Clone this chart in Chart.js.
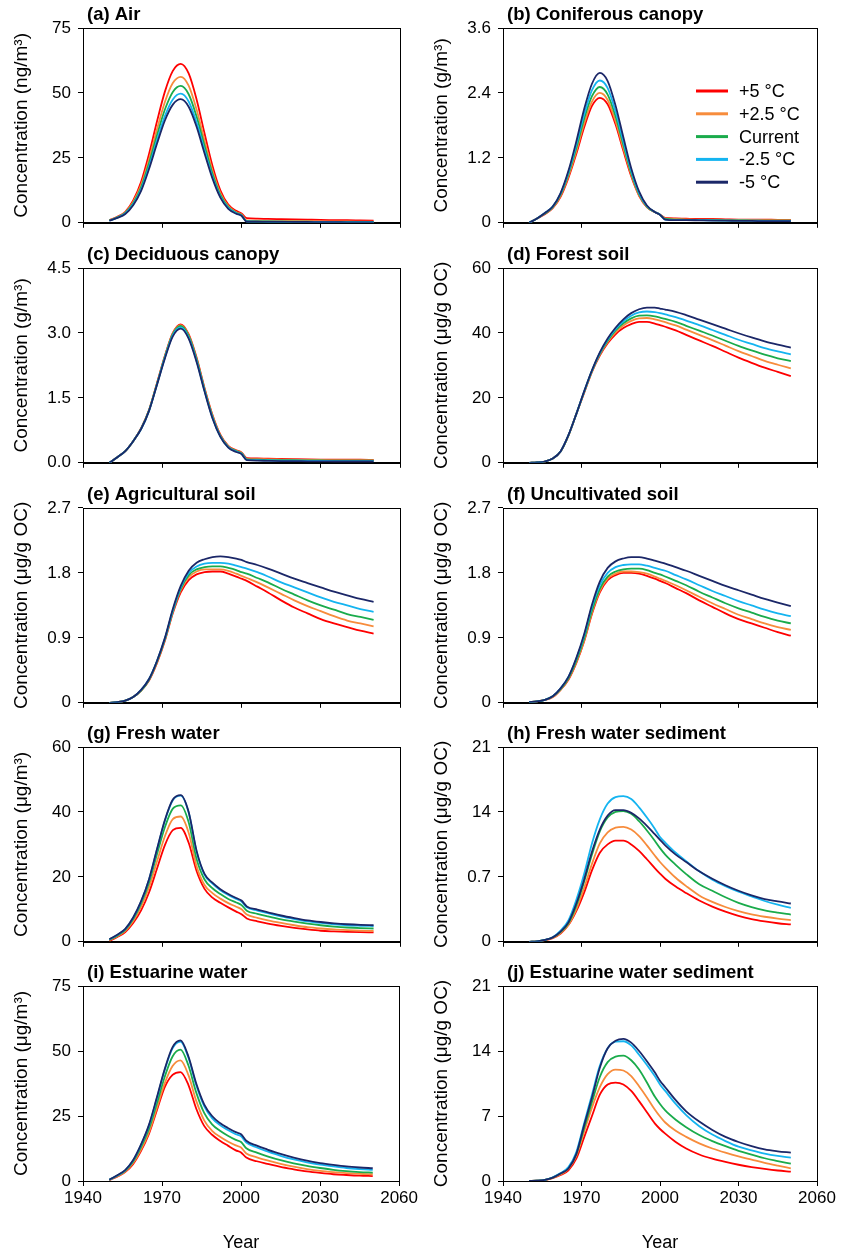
<!DOCTYPE html>
<html>
<head>
<meta charset="utf-8">
<script src="https://cdn.jsdelivr.net/npm/chart.js@4.4.0/dist/chart.umd.min.js"></script>
<style>
    body { margin: 0; background: #fff; }
    #wrap { position: relative; width: 841px; height: 1254px; }
    .cell { position: absolute; }
</style>
</head>
<body>
<div id="wrap"></div>
<script>
// sample years shared by every series
const years = [1950, 1953, 1956, 1959, 1962, 1965, 1968, 1971, 1974, 1977, 1980, 1983, 1986, 1989, 1992, 1995, 1998, 2000, 2002, 2006, 2010, 2015, 2020, 2025, 2030, 2035, 2040, 2045, 2050];
const xTicks = [1940, 1970, 2000, 2030, 2060];
const seriesNames = ["+5 °C", "+2.5 °C", "Current", "-2.5 °C", "-5 °C"];
const seriesColors = ["#fe0000", "#f78c3c", "#1aab4b", "#14b4f0", "#1b2768"];

// (a) Air
const airP5 = [1.0, 2.3, 4.2, 8.6, 15.8, 26.5, 39, 50.5, 58.5, 61.2, 57.5, 47.5, 34.5, 22, 12.5, 7, 4.6, 3.6, 1.8, 1.6, 1.5, 1.4, 1.3, 1.2, 1.1, 1.05, 1.0, 0.9, 0.8];
const airP25 = [0.9, 2.2, 4.0, 8.0, 14.6, 24.4, 36, 46.5, 53.8, 56.2, 52.8, 43.6, 31.6, 20.1, 11.4, 6.4, 4.1, 3.2, 0.9, 0.8, 0.75, 0.7, 0.65, 0.6, 0.55, 0.5, 0.5, 0.45, 0.4];
const airCur = [0.9, 2.1, 3.8, 7.5, 13.7, 22.9, 33.7, 43.6, 50.4, 52.7, 49.5, 40.9, 29.7, 18.9, 10.7, 6.0, 3.9, 3.0, 0.6, 0.5, 0.5, 0.45, 0.4, 0.4, 0.35, 0.35, 0.3, 0.3, 0.3];
const airM25 = [0.8, 2.0, 3.6, 7.1, 12.9, 21.6, 31.8, 41.1, 47.5, 49.7, 46.7, 38.6, 28, 17.8, 10.1, 5.7, 3.7, 2.8, 0.5, 0.45, 0.4, 0.4, 0.35, 0.35, 0.3, 0.3, 0.25, 0.25, 0.25];
const airM5 = [0.8, 1.9, 3.4, 6.8, 12.3, 20.7, 30.4, 39.4, 45.5, 47.6, 44.7, 37, 26.8, 17.1, 9.7, 5.4, 3.5, 2.7, 0.4, 0.4, 0.35, 0.35, 0.3, 0.3, 0.25, 0.25, 0.2, 0.2, 0.2];

// (b) Coniferous canopy
const conP5 = [0, 0.08, 0.16, 0.27, 0.48, 0.83, 1.27, 1.76, 2.16, 2.31, 2.19, 1.82, 1.33, 0.86, 0.5, 0.29, 0.2, 0.15, 0.09, 0.08, 0.075, 0.07, 0.07, 0.065, 0.06, 0.06, 0.06, 0.055, 0.055];
const conP25 = [0, 0.08, 0.17, 0.28, 0.5, 0.86, 1.32, 1.83, 2.24, 2.4, 2.27, 1.88, 1.38, 0.89, 0.51, 0.29, 0.2, 0.15, 0.08, 0.07, 0.065, 0.06, 0.06, 0.055, 0.055, 0.05, 0.05, 0.05, 0.05];
const conCur = [0, 0.08, 0.17, 0.29, 0.52, 0.9, 1.38, 1.92, 2.34, 2.51, 2.37, 1.97, 1.44, 0.92, 0.53, 0.3, 0.2, 0.15, 0.07, 0.06, 0.055, 0.05, 0.05, 0.045, 0.045, 0.04, 0.04, 0.04, 0.04];
const conM25 = [0, 0.08, 0.18, 0.3, 0.54, 0.93, 1.44, 2.0, 2.45, 2.63, 2.49, 2.06, 1.5, 0.96, 0.55, 0.31, 0.2, 0.15, 0.06, 0.055, 0.05, 0.05, 0.045, 0.04, 0.04, 0.04, 0.035, 0.035, 0.035];
const conM5 = [0, 0.08, 0.18, 0.3, 0.55, 0.96, 1.5, 2.1, 2.57, 2.77, 2.62, 2.17, 1.58, 1.01, 0.58, 0.32, 0.2, 0.15, 0.06, 0.05, 0.05, 0.045, 0.04, 0.04, 0.035, 0.035, 0.03, 0.03, 0.03];

// (c) Deciduous canopy
const decP5 = [0, 0.13, 0.27, 0.5, 0.8, 1.22, 1.84, 2.47, 3.0, 3.2, 2.97, 2.43, 1.73, 1.11, 0.65, 0.39, 0.29, 0.24, 0.11, 0.1, 0.095, 0.09, 0.085, 0.08, 0.075, 0.07, 0.07, 0.07, 0.065];
const decP25 = [0, 0.13, 0.27, 0.5, 0.79, 1.22, 1.83, 2.46, 2.99, 3.18, 2.95, 2.41, 1.71, 1.09, 0.63, 0.38, 0.28, 0.23, 0.09, 0.085, 0.08, 0.075, 0.07, 0.065, 0.065, 0.06, 0.06, 0.06, 0.06];
const decCur = [0, 0.13, 0.27, 0.5, 0.79, 1.21, 1.82, 2.45, 2.97, 3.16, 2.93, 2.39, 1.69, 1.07, 0.62, 0.37, 0.27, 0.22, 0.08, 0.07, 0.065, 0.06, 0.06, 0.055, 0.055, 0.05, 0.05, 0.05, 0.05];
const decM25 = [0, 0.13, 0.27, 0.5, 0.78, 1.2, 1.81, 2.43, 2.95, 3.13, 2.9, 2.36, 1.67, 1.05, 0.61, 0.36, 0.26, 0.21, 0.07, 0.06, 0.055, 0.05, 0.05, 0.045, 0.045, 0.04, 0.04, 0.04, 0.04];
const decM5 = [0, 0.13, 0.27, 0.5, 0.78, 1.2, 1.8, 2.41, 2.92, 3.1, 2.87, 2.33, 1.65, 1.03, 0.6, 0.35, 0.25, 0.2, 0.06, 0.05, 0.045, 0.04, 0.04, 0.035, 0.035, 0.03, 0.03, 0.03, 0.03];

// (d) Forest soil
const forP5 = [0, 0.1, 0.4, 1.3, 3.5, 8.4, 15, 21.5, 28, 33, 36.8, 39.6, 41.5, 42.7, 43.4, 43.4, 42.9, 42.4, 41.9, 40.8, 39.4, 37.7, 36, 34.2, 32.4, 30.8, 29.3, 28, 26.7];
const forP25 = [0, 0.1, 0.4, 1.3, 3.5, 8.4, 15, 21.6, 28.1, 33.3, 37.2, 40.2, 42.3, 43.7, 44.5, 44.6, 44.2, 43.8, 43.3, 42.3, 41, 39.4, 37.8, 36.1, 34.4, 32.9, 31.4, 30.2, 29.1];
const forCur = [0, 0.1, 0.4, 1.3, 3.5, 8.4, 15, 21.8, 28.3, 33.6, 37.6, 40.8, 43, 44.5, 45.3, 45.4, 45.1, 44.7, 44.3, 43.4, 42.2, 40.7, 39.2, 37.6, 36, 34.6, 33.3, 32.2, 31.3];
const forM25 = [0, 0.1, 0.4, 1.3, 3.5, 8.5, 15, 21.9, 28.4, 33.8, 38, 41.2, 43.6, 45.3, 46.3, 46.6, 46.4, 46.1, 45.7, 44.9, 43.8, 42.4, 40.9, 39.4, 37.9, 36.6, 35.3, 34.3, 33.4];
const forM5 = [0, 0.1, 0.4, 1.3, 3.5, 8.5, 15, 22, 28.5, 34, 38.3, 41.6, 44.2, 46.1, 47.3, 47.8, 47.8, 47.5, 47.2, 46.5, 45.5, 44.1, 42.7, 41.3, 39.9, 38.6, 37.4, 36.4, 35.5];

// (e) Agricultural soil
const agrP5 = [0, 0.01, 0.03, 0.08, 0.17, 0.31, 0.55, 0.86, 1.24, 1.53, 1.7, 1.78, 1.81, 1.82, 1.82, 1.79, 1.75, 1.72, 1.69, 1.61, 1.53, 1.42, 1.32, 1.24, 1.16, 1.1, 1.05, 1.0, 0.96];
const agrP25 = [0, 0.01, 0.03, 0.08, 0.17, 0.32, 0.56, 0.87, 1.26, 1.56, 1.74, 1.82, 1.85, 1.85, 1.85, 1.83, 1.79, 1.76, 1.73, 1.67, 1.6, 1.51, 1.42, 1.34, 1.27, 1.2, 1.14, 1.1, 1.06];
const agrCur = [0, 0.01, 0.03, 0.08, 0.17, 0.32, 0.57, 0.88, 1.27, 1.58, 1.77, 1.85, 1.88, 1.89, 1.89, 1.87, 1.84, 1.81, 1.79, 1.73, 1.67, 1.58, 1.5, 1.42, 1.35, 1.29, 1.23, 1.19, 1.15];
const agrM25 = [0, 0.01, 0.03, 0.08, 0.18, 0.33, 0.58, 0.89, 1.28, 1.6, 1.8, 1.89, 1.93, 1.94, 1.94, 1.93, 1.9, 1.88, 1.86, 1.81, 1.75, 1.67, 1.6, 1.53, 1.46, 1.4, 1.35, 1.3, 1.26];
const agrM5 = [0, 0.01, 0.03, 0.08, 0.18, 0.33, 0.58, 0.9, 1.3, 1.62, 1.83, 1.94, 1.99, 2.02, 2.03, 2.02, 2.0, 1.98, 1.95, 1.91, 1.86, 1.79, 1.72, 1.66, 1.6, 1.54, 1.49, 1.44, 1.4];

// (f) Uncultivated soil
const uncP5 = [0.01, 0.02, 0.04, 0.08, 0.18, 0.32, 0.55, 0.85, 1.23, 1.53, 1.7, 1.77, 1.8, 1.8, 1.79, 1.76, 1.72, 1.69, 1.66, 1.59, 1.52, 1.42, 1.33, 1.24, 1.16, 1.1, 1.04, 0.98, 0.93];
const uncP25 = [0.01, 0.02, 0.04, 0.08, 0.18, 0.33, 0.56, 0.86, 1.25, 1.55, 1.72, 1.79, 1.82, 1.82, 1.81, 1.79, 1.75, 1.72, 1.69, 1.63, 1.56, 1.47, 1.38, 1.3, 1.22, 1.16, 1.1, 1.05, 1.01];
const uncCur = [0.01, 0.02, 0.04, 0.09, 0.19, 0.34, 0.58, 0.89, 1.28, 1.58, 1.75, 1.82, 1.85, 1.86, 1.86, 1.84, 1.8, 1.78, 1.75, 1.69, 1.63, 1.54, 1.46, 1.38, 1.31, 1.25, 1.19, 1.14, 1.1];
const uncM25 = [0.01, 0.02, 0.04, 0.09, 0.2, 0.36, 0.61, 0.93, 1.33, 1.63, 1.8, 1.88, 1.91, 1.92, 1.92, 1.9, 1.87, 1.85, 1.83, 1.77, 1.71, 1.63, 1.55, 1.48, 1.41, 1.35, 1.29, 1.24, 1.2];
const uncM5 = [0.01, 0.02, 0.04, 0.09, 0.2, 0.36, 0.62, 0.95, 1.36, 1.68, 1.87, 1.96, 2.0, 2.02, 2.02, 2.0, 1.97, 1.95, 1.93, 1.88, 1.83, 1.76, 1.69, 1.62, 1.56, 1.5, 1.44, 1.39, 1.34];

// (g) Fresh water
const fwP5 = [0.3, 1.5, 3.0, 5.8, 9.7, 15.2, 22.5, 29.8, 34.4, 35.1, 30.5, 21.8, 16.3, 13.6, 12.0, 10.6, 9.3, 8.5, 7.2, 6.3, 5.6, 4.9, 4.3, 3.8, 3.4, 3.2, 3.05, 2.95, 2.9];
const fwP25 = [0.45, 1.7, 3.4, 6.4, 10.8, 16.8, 24.7, 32.5, 37.8, 38.6, 33.6, 23.3, 17.5, 15.0, 13.3, 11.9, 10.8, 10.0, 8.4, 7.4, 6.6, 5.8, 5.1, 4.5, 4.1, 3.8, 3.6, 3.45, 3.35];
const fwCur = [0.6, 1.9, 3.7, 7.0, 11.8, 18.3, 27, 35.3, 41, 42, 36.8, 25.5, 19.2, 16.5, 14.7, 13.2, 12.1, 11.3, 9.6, 8.6, 7.8, 6.9, 6.2, 5.6, 5.1, 4.7, 4.4, 4.2, 4.1];
const fwM25 = [0.7, 2.1, 3.9, 7.4, 12.4, 19.2, 28.4, 37.3, 43.6, 45.0, 39.8, 27.8, 20.6, 17.9, 15.9, 14.4, 13.2, 12.4, 10.6, 9.6, 8.8, 7.8, 7.0, 6.3, 5.8, 5.4, 5.1, 4.95, 4.85];
const fwM5 = [0.8, 2.2, 4.0, 7.5, 12.5, 19.3, 28.5, 37.5, 43.8, 45.2, 40, 28, 20.9, 18.2, 16.2, 14.7, 13.5, 12.7, 10.9, 9.9, 9.1, 8.1, 7.3, 6.6, 6.1, 5.7, 5.4, 5.2, 5.1];

// (h) Fresh water sediment
const fwsP5 = [0, 0.04, 0.17, 0.4, 0.9, 1.8, 3.3, 5.3, 7.7, 9.6, 10.5, 10.9, 10.9, 10.5, 9.8, 8.9, 7.95, 7.35, 6.8, 5.95, 5.25, 4.45, 3.8, 3.25, 2.8, 2.45, 2.2, 2.0, 1.87];
const fwsP25 = [0, 0.04, 0.18, 0.42, 0.95, 1.85, 3.5, 5.8, 8.4, 10.6, 11.8, 12.3, 12.4, 12.1, 11.4, 10.4, 9.3, 8.6, 8.0, 6.9, 6.0, 5.0, 4.3, 3.75, 3.3, 2.95, 2.7, 2.5, 2.33];
const fwsCur = [0, 0.05, 0.2, 0.46, 1.05, 2.0, 3.9, 6.5, 9.4, 11.9, 13.4, 14.0, 14.1, 13.8, 13.0, 12.0, 10.9, 10.1, 9.4, 8.3, 7.3, 6.2, 5.5, 4.8, 4.2, 3.75, 3.4, 3.15, 2.94];
const fwsM25 = [0, 0.05, 0.2, 0.5, 1.2, 2.3, 4.5, 7.3, 10.6, 13.2, 14.9, 15.6, 15.7, 15.4, 14.5, 13.4, 12.2, 11.3, 10.7, 9.6, 8.7, 7.6, 6.7, 6.0, 5.4, 4.9, 4.4, 4.0, 3.66];
const fwsM5 = [0, 0.05, 0.2, 0.48, 1.1, 2.1, 4.1, 6.7, 9.7, 12.1, 13.6, 14.2, 14.2, 13.9, 13.3, 12.5, 11.6, 11.0, 10.4, 9.4, 8.6, 7.6, 6.8, 6.1, 5.5, 5.0, 4.6, 4.35, 4.13];

// (i) Estuarine water
const ewP5 = [0.3, 1.7, 3.4, 6.5, 11.5, 18, 27, 36, 40.8, 41.9, 37, 27.8, 21.2, 17.8, 15.5, 13.6, 11.8, 11, 9, 7.6, 6.6, 5.4, 4.5, 3.7, 3.1, 2.6, 2.3, 2.05, 1.9];
const ewP25 = [0.4, 1.8, 3.6, 6.9, 12.1, 18.7, 28, 37.5, 44.2, 46.4, 40.8, 30.8, 23.3, 19.3, 17.0, 15.2, 13.7, 12.9, 10.6, 9.1, 7.9, 6.6, 5.5, 4.6, 3.9, 3.4, 3.0, 2.75, 2.6];
const ewCur = [0.45, 2.0, 3.9, 7.4, 13, 20, 29.7, 40, 47.9, 50.5, 44.5, 34, 26.2, 21.8, 19.3, 17.4, 15.8, 15, 12.6, 10.9, 9.5, 8, 6.8, 5.8, 5.0, 4.3, 3.8, 3.45, 3.2];
const ewM25 = [0.5, 2.1, 4.1, 7.9, 13.8, 21.2, 31.6, 42.6, 51, 53.6, 47.5, 36.8, 28.8, 24.2, 21.5, 19.6, 18, 17.2, 14.8, 12.9, 11.4, 9.7, 8.3, 7.2, 6.3, 5.6, 5.0, 4.6, 4.3];
const ewM5 = [0.5, 2.2, 4.2, 8, 14, 21.5, 32, 43, 51.5, 54.1, 48, 37.5, 29.5, 25, 22.3, 20.4, 18.8, 18, 15.5, 13.6, 12.1, 10.4, 9.0, 7.8, 6.9, 6.2, 5.6, 5.2, 4.9];

// (j) Estuarine water sediment
const ewsP5 = [0, 0.03, 0.1, 0.3, 0.65, 1.15, 2.4, 4.7, 7.0, 9.3, 10.4, 10.6, 10.4, 9.7, 8.6, 7.4, 6.2, 5.6, 5.1, 4.2, 3.5, 2.85, 2.4, 2.05, 1.75, 1.5, 1.3, 1.13, 1.0];
const ewsP25 = [0, 0.03, 0.11, 0.33, 0.72, 1.3, 2.7, 5.3, 7.9, 10.1, 11.5, 12.0, 11.9, 11.3, 10.2, 9.0, 7.7, 6.95, 6.3, 5.4, 4.75, 4.05, 3.5, 3.05, 2.65, 2.3, 1.95, 1.65, 1.37];
const ewsCur = [0, 0.03, 0.12, 0.37, 0.8, 1.4, 2.9, 5.7, 8.5, 11.2, 12.8, 13.4, 13.5, 13.0, 12.0, 10.6, 9.1, 8.3, 7.6, 6.6, 5.8, 4.95, 4.3, 3.75, 3.25, 2.85, 2.45, 2.15, 1.87];
const ewsM25 = [0, 0.03, 0.13, 0.4, 0.85, 1.5, 3.1, 6.2, 9.3, 12.4, 14.3, 15.0, 15.05, 14.6, 13.6, 12.5, 11.3, 10.4, 9.7, 8.3, 7.1, 5.9, 5.0, 4.3, 3.7, 3.3, 2.95, 2.7, 2.52];
const ewsM5 = [0, 0.03, 0.12, 0.36, 0.8, 1.35, 2.9, 6.0, 9.0, 12.2, 14.3, 15.1, 15.3, 14.9, 14.0, 12.9, 11.7, 10.8, 10.1, 8.7, 7.5, 6.4, 5.5, 4.75, 4.2, 3.75, 3.4, 3.2, 3.06];

// y tick labels per panel
const ticksAir = ["0", "25", "50", "75"];
const ticksCon = ["0", "1.2", "2.4", "3.6"];
const ticksDec = ["0.0", "1.5", "3.0", "4.5"];
const ticksFor = ["0", "20", "40", "60"];
const ticksSoil = ["0", "0.9", "1.8", "2.7"];
const ticksFw = ["0", "20", "40", "60"];
const ticksFws = ["0", "0.7", "14", "21"];
const ticksEw = ["0", "25", "50", "75"];
const ticksEws = ["0", "7", "14", "21"];

const panels = [
    { title: "(a) Air", unit: "Concentration (ng/m³)", max: 75, ticks: ticksAir, data: [airP5, airP25, airCur, airM25, airM5] },
    { title: "(b) Coniferous canopy", unit: "Concentration (g/m³)", max: 3.6, ticks: ticksCon, data: [conP5, conP25, conCur, conM25, conM5], legend: true },
    { title: "(c) Deciduous canopy", unit: "Concentration (g/m³)", max: 4.5, ticks: ticksDec, data: [decP5, decP25, decCur, decM25, decM5] },
    { title: "(d) Forest soil", unit: "Concentration (μg/g OC)", max: 60, ticks: ticksFor, data: [forP5, forP25, forCur, forM25, forM5] },
    { title: "(e) Agricultural soil", unit: "Concentration (μg/g OC)", max: 2.7, ticks: ticksSoil, data: [agrP5, agrP25, agrCur, agrM25, agrM5] },
    { title: "(f) Uncultivated soil", unit: "Concentration (μg/g OC)", max: 2.7, ticks: ticksSoil, data: [uncP5, uncP25, uncCur, uncM25, uncM5] },
    { title: "(g) Fresh water", unit: "Concentration (μg/m³)", max: 60, ticks: ticksFw, data: [fwP5, fwP25, fwCur, fwM25, fwM5] },
    { title: "(h) Fresh water sediment", unit: "Concentration (μg/g OC)", max: 21, ticks: ticksFws, data: [fwsP5, fwsP25, fwsCur, fwsM25, fwsM5] },
    { title: "(i) Estuarine water", unit: "Concentration (μg/m³)", max: 75, ticks: ticksEw, data: [ewP5, ewP25, ewCur, ewM25, ewM5] },
    { title: "(j) Estuarine water sediment", unit: "Concentration (μg/g OC)", max: 21, ticks: ticksEws, data: [ewsP5, ewsP25, ewsCur, ewsM25, ewsM5] }
];

const FONT = "'Liberation Sans', Arial, sans-serif";
Chart.defaults.font.family = FONT;
Chart.defaults.color = "#000";

// box around the plot, panel title, legend for panel (b)
const panelDecor = {
    id: "panelDecor",
    afterDraw: function (chart, args, opts) {
        const ctx = chart.ctx;
        const a = chart.chartArea;
        ctx.save();
        ctx.strokeStyle = "#000";
        ctx.lineWidth = 1;
        ctx.strokeRect(Math.round(a.left) + 0.5, Math.round(a.top) + 0.5, Math.round(a.right - a.left), Math.round(a.bottom - a.top));
        ctx.fillStyle = "#000";
        ctx.font = "bold 18.5px " + FONT;
        ctx.textAlign = "left";
        ctx.textBaseline = "middle";
        ctx.fillText(opts.title, a.left + 4, a.top - 13);
        if (opts.legend) {
            ctx.font = "18px " + FONT;
            for (let k = 0; k < seriesNames.length; k++) {
                const y = a.top + 63 + k * 22.8;
                ctx.strokeStyle = seriesColors[k];
                ctx.lineWidth = 3;
                ctx.beginPath();
                ctx.moveTo(a.left + 193, y);
                ctx.lineTo(a.left + 225, y);
                ctx.stroke();
                ctx.fillText(seriesNames[k], a.left + 236, y + 1);
            }
        }
        ctx.restore();
    }
};

const rowTops = [0, 240, 480, 719, 958];
const wrap = document.getElementById("wrap");

panels.forEach(function (p, i) {
    const col = i % 2;
    const row = Math.floor(i / 2);
    const last = row === 4;
    const div = document.createElement("div");
    div.className = "cell";
    div.style.left = col * 420 + "px";
    div.style.top = rowTops[row] + "px";
    div.style.width = (col === 0 ? 420 : 421) + "px";
    div.style.height = (last ? 296 : 240) + "px";
    const canvas = document.createElement("canvas");
    div.appendChild(canvas);
    wrap.appendChild(div);

    const datasets = p.data.map(function (vals, k) {
        return {
            label: seriesNames[k],
            data: years.map(function (yr, j) { return { x: yr, y: vals[j] }; }),
            borderColor: seriesColors[k],
            borderWidth: 1.8,
            pointRadius: 0,
            cubicInterpolationMode: "monotone",
            fill: false,
            order: 5 - k
        };
    });

    new Chart(canvas.getContext("2d"), {
        type: "line",
        data: { datasets: datasets },
        options: {
            responsive: true,
            maintainAspectRatio: false,
            animation: false,
            layout: { padding: { left: 6, right: col === 0 ? 20 : 24, top: 28, bottom: 0 } },
            plugins: {
                legend: { display: false },
                tooltip: { enabled: false },
                panelDecor: { title: p.title, legend: !!p.legend }
            },
            scales: {
                x: {
                    type: "linear",
                    min: 1940,
                    max: 2060,
                    afterBuildTicks: function (s) { s.ticks = xTicks.map(function (v) { return { value: v }; }); },
                    afterFit: function (s) { s.height = last ? 73 : 17; },
                    ticks: { display: last, font: { size: 17 }, color: "#000", padding: 2, maxRotation: 0, callback: function (v) { return String(v); } },
                    grid: { drawOnChartArea: false, drawTicks: true, tickLength: 5, color: "#000" },
                    border: { color: "#000", width: 1 },
                    title: { display: last, text: "Year", font: { size: 18 }, color: "#000", padding: { top: 0, bottom: 0 } }
                },
                y: {
                    min: 0,
                    max: p.max,
                    afterBuildTicks: function (s) { s.ticks = p.ticks.map(function (t, k) { return { value: p.max * k / 3 }; }); },
                    afterFit: function (s) { s.width = 77; },
                    ticks: { font: { size: 17 }, color: "#000", padding: 7, callback: function (v, idx) { return p.ticks[idx]; } },
                    grid: { drawOnChartArea: false, drawTicks: true, tickLength: 5, color: "#000" },
                    border: { color: "#000", width: 1 },
                    title: { display: true, text: p.unit, font: { size: 19 }, color: "#000", padding: { top: 4, bottom: 0 } }
                }
            }
        },
        plugins: [panelDecor]
    });
});
</script>
</body>
</html>
